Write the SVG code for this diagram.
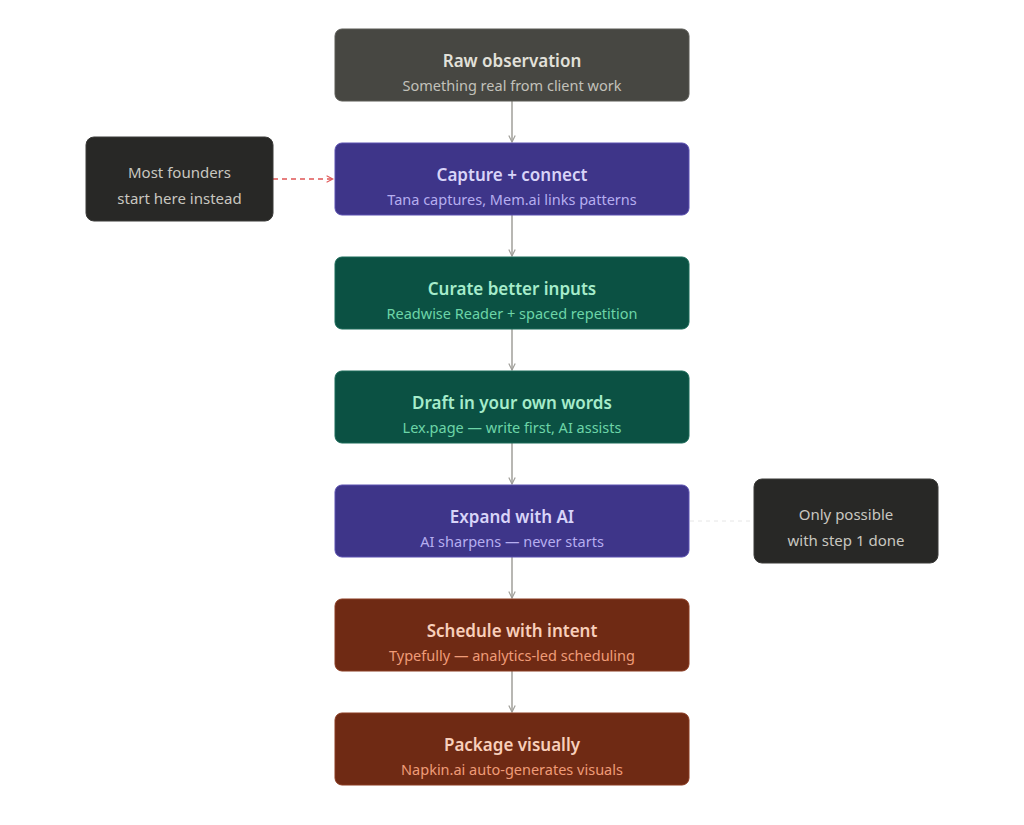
<svg xmlns="http://www.w3.org/2000/svg" width="1024" height="825" viewBox="0 0 1024 825">
<style>
text{font-family:"Noto Sans","Open Sans",sans-serif;text-anchor:middle}
.t{font-size:17px;font-weight:600}
.s{font-size:14.5px}
.n{font-size:15px;fill:#c8c7c0}
.box{stroke-width:1}
.c{stroke:#a09f9a;stroke-width:1.5;fill:none}
</style>
<defs>
<marker id="ah" viewBox="0 0 10 10" refX="9" refY="5" markerWidth="8" markerHeight="8" orient="auto" markerUnits="userSpaceOnUse"><path d="M1,1 L9,5 L1,9" fill="none" stroke="#a09f9a" stroke-width="1.5"/></marker>
<marker id="ar" viewBox="0 0 10 10" refX="9" refY="5" markerWidth="8" markerHeight="8" orient="auto" markerUnits="userSpaceOnUse"><path d="M1,1 L9,5 L1,9" fill="none" stroke="#e05555" stroke-width="1.3"/></marker>
</defs>
<rect width="1024" height="825" fill="#ffffff"/>
<g id="connectors">
<line class="c" x1="512" y1="101" x2="512" y2="142" marker-end="url(#ah)"/>
<line class="c" x1="512" y1="215" x2="512" y2="256" marker-end="url(#ah)"/>
<line class="c" x1="512" y1="329" x2="512" y2="370" marker-end="url(#ah)"/>
<line class="c" x1="512" y1="443" x2="512" y2="484" marker-end="url(#ah)"/>
<line class="c" x1="512" y1="557" x2="512" y2="598" marker-end="url(#ah)"/>
<line class="c" x1="512" y1="671" x2="512" y2="712" marker-end="url(#ah)"/>
<line x1="273" y1="179" x2="333" y2="179" stroke="#e05555" stroke-width="1.3" stroke-dasharray="5,4" marker-end="url(#ar)"/>
<line x1="690" y1="521" x2="754" y2="521" stroke="#e6e6e6" stroke-width="1" stroke-dasharray="4,4"/>
</g>
<g id="n1"><rect x="335" y="29" width="354" height="72" rx="7" fill="#474742" stroke="#5a5a55"/><text class="t" x="512" y="67" fill="#e2e1da">Raw observation</text><text class="s" x="512" y="91" fill="#c2c1ba">Something real from client work</text></g>
<g id="n2"><rect x="335" y="143" width="354" height="72" rx="7" fill="#3e3589" stroke="#5a50b0"/><text class="t" x="512" y="181" fill="#d8d4f8">Capture + connect</text><text class="s" x="512" y="205" fill="#b6aef0">Tana captures, Mem.ai links patterns</text></g>
<g id="n3"><rect x="335" y="257" width="354" height="72" rx="7" fill="#0b5143" stroke="#1a6a58"/><text class="t" x="512" y="295" fill="#a6eccb">Curate better inputs</text><text class="s" x="512" y="319" fill="#6dd5a8">Readwise Reader + spaced repetition</text></g>
<g id="n4"><rect x="335" y="371" width="354" height="72" rx="7" fill="#0b5143" stroke="#1a6a58"/><text class="t" x="512" y="409" fill="#a6eccb">Draft in your own words</text><text class="s" x="512" y="433" fill="#6dd5a8">Lex.page — write first, AI assists</text></g>
<g id="n5"><rect x="335" y="485" width="354" height="72" rx="7" fill="#3e3589" stroke="#5a50b0"/><text class="t" x="512" y="523" fill="#d8d4f8">Expand with AI</text><text class="s" x="512" y="547" fill="#b6aef0">AI sharpens — never starts</text></g>
<g id="n6"><rect x="335" y="599" width="354" height="72" rx="7" fill="#6f2a14" stroke="#8a3a20"/><text class="t" x="512" y="637" fill="#f8cfbb">Schedule with intent</text><text class="s" x="512" y="661" fill="#f09c78">Typefully — analytics-led scheduling</text></g>
<g id="n7"><rect x="335" y="713" width="354" height="72" rx="7" fill="#6f2a14" stroke="#8a3a20"/><text class="t" x="512" y="751" fill="#f8cfbb">Package visually</text><text class="s" x="512" y="775" fill="#f09c78">Napkin.ai auto-generates visuals</text></g>
<g id="note1"><rect x="86" y="137" width="187" height="84" rx="8" fill="#282826" stroke="#3a3a38"/><text class="n" x="179.5" y="178">Most founders</text><text class="n" x="179.5" y="204">start here instead</text></g>
<g id="note2"><rect x="754" y="479" width="184" height="84" rx="8" fill="#282826" stroke="#3a3a38"/><text class="n" x="846" y="520">Only possible</text><text class="n" x="846" y="546">with step 1 done</text></g>
</svg>
